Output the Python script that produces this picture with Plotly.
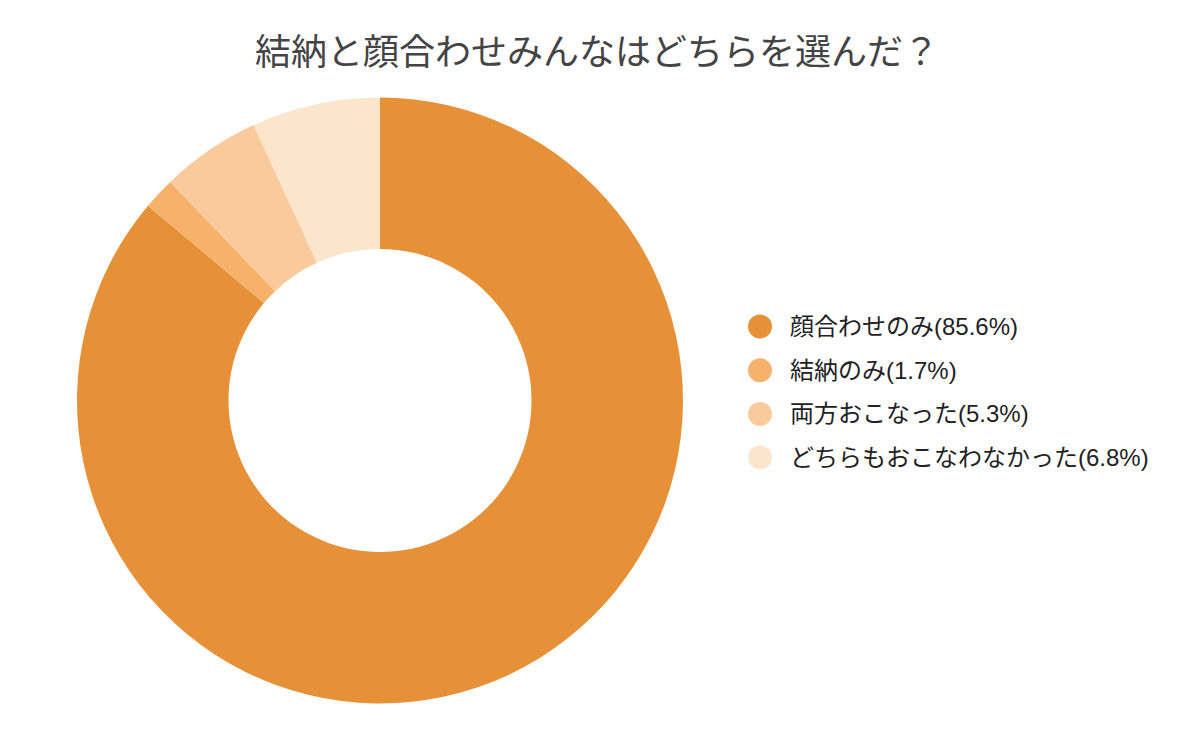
import plotly.graph_objects as go

# survey answers
labels = ["顔合わせのみ", "結納のみ", "両方おこなった", "どちらもおこなわなかった"]
values = [85.6, 1.7, 5.3, 6.8]
colors = ["#E69138", "#F6B26B", "#F9CB9C", "#FCE5CD"]
title_text = "結納と顔合わせみんなはどちらを選んだ？"

W, H = 1200, 742
OFF = 8  # page body margin shifts the figure by this much
font_family = "Arial, Liberation Sans, Noto Sans CJK JP, sans-serif"


def px_x(v):
    return (v - OFF) / W


def px_y(v):
    return 1 - (v - OFF) / H


fig = go.Figure(go.Pie(
    labels=labels, values=values,
    marker=dict(colors=colors, line=dict(width=0)),
    hole=0.5, sort=False, direction="clockwise", rotation=0,
    textinfo="none", hoverinfo="label+percent", showlegend=False,
    domain=dict(x=[px_x(77), px_x(683)], y=[px_y(704), px_y(97)]),
))

# legend with round markers, built from the data lists
shapes = []
annotations = []
y0 = 326.5
step = 43.7
for i, (lab, val, col) in enumerate(zip(labels, values, colors)):
    yc = y0 + i * step
    shapes.append(dict(type="circle", xref="paper", yref="paper",
                       x0=px_x(748), x1=px_x(772),
                       y0=px_y(yc + 12), y1=px_y(yc - 12),
                       fillcolor=col, line=dict(width=0)))
    annotations.append(dict(text=f"{lab}({val}%)", xref="paper", yref="paper",
                            x=px_x(788), y=px_y(yc), xanchor="left", yanchor="middle",
                            showarrow=False, font=dict(size=24, color="#222222")))

fig.update_layout(
    width=W, height=H,
    margin=dict(l=0, r=0, t=0, b=0),
    paper_bgcolor="white", plot_bgcolor="white",
    font=dict(family=font_family),
    title=dict(text=title_text, x=px_x(597), xanchor="center", y=px_y(52), yanchor="middle",
               font=dict(size=36, color="#444444")),
    shapes=shapes, annotations=annotations,
)

fig.write_html("out.html")
